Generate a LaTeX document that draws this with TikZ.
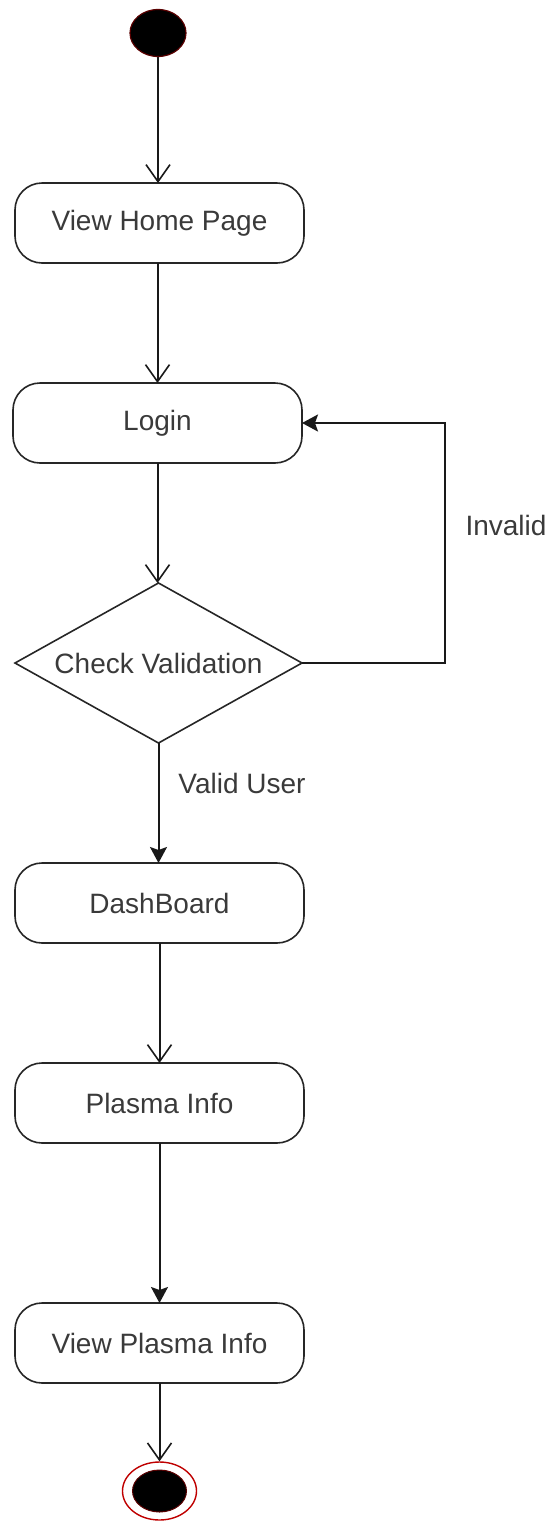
\documentclass[tikz,border=0pt]{standalone}
\usepackage{fontspec}
\setmainfont{Liberation Sans}
\usetikzlibrary{arrows.meta,shapes.geometric}
\definecolor{txt}{HTML}{3A3A3A}
\tikzset{
  actbox/.style={draw=black!85, line width=1.6pt, rounded corners=27pt, minimum width=289pt, minimum height=80pt, inner sep=0pt, outer sep=0pt, text=txt, font=\fontsize{28}{33}\selectfont},
  decide/.style={draw=black!85, line width=1.6pt, diamond, aspect=1.79, minimum width=287pt, minimum height=160pt, inner sep=0pt, outer sep=0pt, text=txt, font=\fontsize{28}{33}\selectfont},
  lbl/.style={text=txt, font=\fontsize{28}{33}\selectfont, inner sep=0pt},
  openarr/.style={draw=black!90, line width=2pt, -{Straight Barb[length=17pt,width=24pt,line width=1.6pt]}},
  fillarr/.style={draw=black!90, line width=2pt, -{Stealth[length=16pt,width=17pt,inset=3pt]}},
}
\begin{document}
\begin{tikzpicture}[x=1pt,y=-1pt]
\useasboundingbox (0,0) rectangle (551,1521);
% start
\node[ellipse, fill=black, draw=red!35!black, line width=1.2pt, minimum width=56pt, minimum height=47pt, inner sep=0pt] (start) at (158,33) {};
% activities
\node[actbox] (vhp) at (159.5,223) {View Home Page};
\node[actbox] (login) at (157.5,423) {Login};
\node[decide] (chk) at (158.5,663) {Check Validation};
\node[actbox] (dash) at (159.5,903) {DashBoard};
\node[actbox] (pinfo) at (159.5,1103) {Plasma Info};
\node[actbox] (vpinfo) at (159.5,1343) {View Plasma Info};
% end
\node[ellipse, draw=red!75!black, fill=white, line width=1.4pt, minimum width=74pt, minimum height=58pt, inner sep=0pt] (fin) at (159.5,1491) {};
\fill[black, draw=red!35!black, line width=1pt] (fin.center) ellipse (27pt and 21pt);
% labels
\node[lbl] (inv) at (506,525) {Invalid};
\node[lbl] (valid) at (242,783) {Valid User};
% connectors
\draw[openarr] (start.south) -- (start.south |- vhp.north);
\draw[openarr] (vhp.south -| login.north) -- (login.north);
\draw[openarr] (login.south) -- (login.south |- chk.north);
\draw[fillarr] (chk.south) -- (chk.south |- dash.north);
\draw[openarr] (dash.south) -- (pinfo.north);
\draw[fillarr] (pinfo.south) -- (vpinfo.north);
\draw[openarr] (vpinfo.south) -- (fin.north);
\draw[fillarr] (chk.east) -- ++(143,0) |- (login.east);
\end{tikzpicture}
\end{document}
